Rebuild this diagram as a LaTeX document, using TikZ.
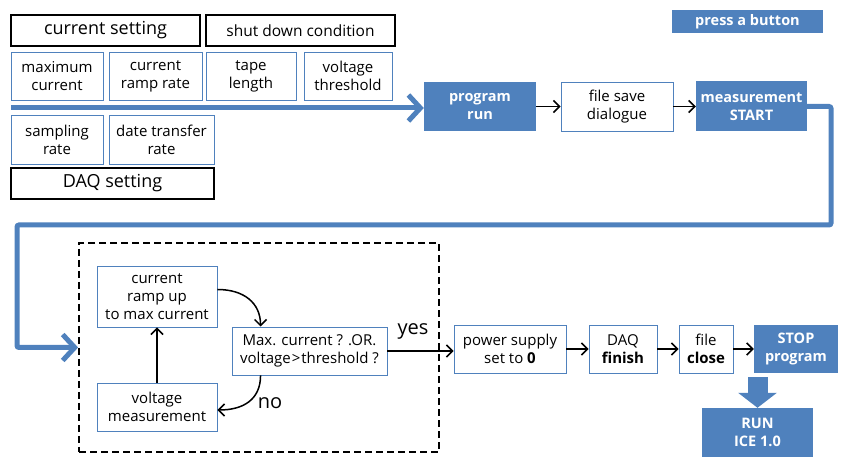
\documentclass[tikz,border=0pt]{standalone}
\usepackage{fontspec}
\setmainfont{Open Sans}
\usetikzlibrary{arrows.meta}
\definecolor{white}{RGB}{255,255,255}
\definecolor{black}{RGB}{0,0,0}
\definecolor{box_blue}{RGB}{79,129,189}

\begin{document}
\begin{tikzpicture}[x=1pt,y=-1pt,
	title/.style={draw=black,line width=2.6pt,inner sep=0pt,align=center},
	item/.style={draw=box_blue,line width=0.9pt,fill=white,inner sep=0pt,align=center,font=\fontsize{15}{18}\selectfont},
	key/.style={fill=box_blue,text=white,inner sep=0pt,align=center,font=\fontsize{14.5}{18}\selectfont\bfseries},
	flow/.style={black,line width=1.5pt,-{Straight Barb[length=6pt,width=12pt]}},
	bigflow/.style={box_blue,line width=5pt,-{Straight Barb[length=12pt,width=26pt]}}]
	\useasboundingbox (0,0) rectangle (847,470);

	% settings
	\node[title,minimum width=189pt,minimum height=31pt,font=\fontsize{18}{20}\selectfont] (cur) at (105.5,30.5) {current setting};
	\node[title,minimum width=189pt,minimum height=31pt,font=\fontsize{15.5}{18}\selectfont] (shut) at (300.5,30.5) {shut down condition};
	\node[item,minimum width=92pt,minimum height=48pt] (maxcur) at (57,76) {maximum\\current};
	\node[item,minimum width=93pt,minimum height=48pt] (ramprate) at (155.5,76) {current\\ramp rate};
	\node[item,minimum width=90pt,minimum height=48pt] (tape) at (251,76) {tape\\length};
	\node[item,minimum width=88pt,minimum height=48pt] (vth) at (348,76) {voltage\\threshold};
	\node[item,minimum width=92pt,minimum height=49pt] (samp) at (57,139.5) {sampling\\rate};
	\node[item,minimum width=105pt,minimum height=49pt] (dtr) at (161.5,139.5) {date transfer\\rate};
	\node[title,minimum width=203pt,minimum height=31pt,font=\fontsize{18}{20}\selectfont] (daq) at (112.5,183.5) {DAQ setting};
	\coordinate (start) at (11,108);

	% top row
	\node[key,minimum width=151pt,minimum height=23pt] (press) at (747.5,21.5) {press a button};
	\node[key,minimum width=112pt,minimum height=49pt] (run) at (480,106.5) {program\\run};
	\node[item,minimum width=112pt,minimum height=49pt] (save) at (617,106.5) {file save\\dialogue};
	\node[key,minimum width=111pt,minimum height=50pt] (mstart) at (751.5,106.5) {measurement\\START};
	\coordinate (turnR) at (831,225);
	\coordinate (turnL) at (17,225);

	% loop
	\node[draw=black,line width=1.8pt,dash pattern=on 7pt off 4pt,minimum width=360pt,minimum height=209pt] (loop) at (259,347.5) {};
	\node[item,minimum width=120pt,minimum height=61pt] (ramp) at (157,296.5) {current\\ramp up\\to max current};
	\node[item,minimum width=155pt,minimum height=48pt] (maxq) at (309.5,351) {Max. current ? .OR.\\voltage{\kern1pt}>{\kern1pt}threshold ?};
	\node[item,minimum width=120pt,minimum height=48pt] (vmeas) at (157,407) {voltage\\measurement};
	\node[font=\fontsize{20}{22}\selectfont] (yes) at (413,331) {yes};
	\node[font=\fontsize{20}{22}\selectfont] (no) at (270,403) {no};

	% bottom row
	\node[item,minimum width=112pt,minimum height=48pt] (power) at (510,349) {power supply\\set to \textbf{0}};
	\node[item,minimum width=68pt,minimum height=48pt] (daqfin) at (623,349) {DAQ\\\textbf{finish}};
	\node[item,minimum width=54pt,minimum height=48pt] (fclose) at (706,349) {file\\\textbf{close}};
	\node[key,minimum width=84pt,minimum height=48pt] (stop) at (796,349) {STOP\\program};
	\node[key,minimum width=111pt,minimum height=49pt] (ice) at (757.5,432.5) {RUN\\ICE 1.0};

	\draw[bigflow] (start) -- (start -| run.west);
	\draw[bigflow,rounded corners=2pt] (mstart.east) -| (turnR) -- (turnL) |- (loop.west);
	\foreach \x/\y in {run/save,save/mstart,power/daqfin,daqfin/fclose,fclose/stop}
		\draw[flow] (\x) -- (\y);
	\draw[flow] (maxq.east) -- (maxq.east -| power.west);
	\draw[flow] (vmeas) -- (ramp);
	\draw[flow] ([yshift=7pt]ramp.east) .. controls +(26,0) and +(0,-24) .. ([xshift=29pt]maxq.north west);
	\draw[flow] ([xshift=29pt]maxq.south west) .. controls +(0,24) and +(26,0) .. ([yshift=-3pt]vmeas.east);
	\draw[box_blue,line width=20pt,shorten <=4pt,-{Triangle[length=15pt,width=38pt]}] (ice.north |- stop.south) -- (ice.north);
\end{tikzpicture}
\end{document}
